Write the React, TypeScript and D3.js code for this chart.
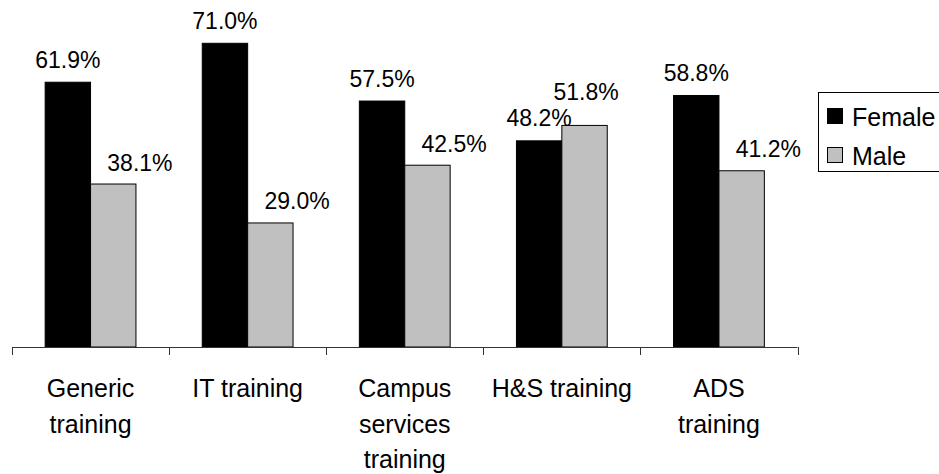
import React from "react";
import * as d3 from "d3";

const categories = ["Generic\ntraining", "IT training", "Campus\nservices\ntraining", "H&S training", "ADS\ntraining"];
const female = [61.9, 71.0, 57.5, 48.2, 58.8];
const male = [38.1, 29.0, 42.5, 51.8, 41.2];
const seriesNames = ["Female", "Male"];
const seriesColors = ["#000000", "#C0C0C0"];

const W = 939;
const H = 474;
const baseY = 347;
const FONT = "'Liberation Sans', Arial, Helvetica, sans-serif";

export default function App() {
  const x0 = d3.scaleBand<string>().domain(categories).range([12, 797.5]).padding(0);
  const bw = x0.bandwidth();
  const barW = bw * 0.289;
  const groupW = barW * 2;
  const y = d3.scaleLinear().domain([0, 80]).range([baseY, 4.8]);
  const fmt = (v: number) => d3.format(".1f")(v) + "%";
  const labelGap = 14.5;
  const labelH = 26;

  const ticks = [...categories.map((c) => x0(c) as number), 797.5];

  return (
    <svg width={W} height={H} style={{ position: "absolute", left: 0, top: 0 }} fontFamily={FONT}>
      <rect x={0} y={0} width={W} height={H} fill="#fff" />
      {categories.map((c, i) => {
        const gx = (x0(c) as number) + (bw - groupW) / 2;
        const fTop = y(female[i]);
        const mTop = y(male[i]);
        const fLabelY = fTop - labelGap;
        let mLabelY = mTop - 13.5;
        let mLabelX = gx + barW * 2 + 4;
        if (Math.abs(mLabelY - fLabelY) < labelH) {
          mLabelY = fLabelY - labelH;
          mLabelX = gx + barW * 1.5 + 1.5;
        }
        return (
          <g key={c}>
            <rect x={gx} y={fTop} width={barW} height={baseY - fTop} fill={seriesColors[0]} stroke="#000" strokeWidth={1} />
            <rect x={gx + barW} y={mTop} width={barW} height={baseY - mTop} fill={seriesColors[1]} stroke="#000" strokeWidth={1} />
            <text x={gx + barW / 2} y={fLabelY} textAnchor="middle" fontSize={23} fill="#000">{fmt(female[i])}</text>
            <text x={mLabelX} y={mLabelY} textAnchor="middle" fontSize={23} fill="#000">{fmt(male[i])}</text>
            <text textAnchor="middle" fontSize={25} fill="#000">
              {c.split("\n").map((line, j) => (
                <tspan key={j} x={(x0(c) as number) + bw / 2} y={397 + j * 35.5}>{line}</tspan>
              ))}
            </text>
          </g>
        );
      })}
      <line x1={12} x2={797.5} y1={baseY + 0.5} y2={baseY + 0.5} stroke="#333" strokeWidth={1} />
      {ticks.map((t, i) => (
        <line key={i} x1={Math.round(t) + 0.5} x2={Math.round(t) + 0.5} y1={baseY} y2={baseY + 8} stroke="#333" strokeWidth={1} />
      ))}
      <g>
        <rect x={818.5} y={92.5} width={140} height={79} fill="#fff" stroke="#000" strokeWidth={1} />
        {seriesNames.map((s, i) => (
          <g key={s}>
            <rect x={827.5} y={108.5 + i * 39} width={15} height={15} fill={seriesColors[i]} stroke="#000" strokeWidth={1} />
            <text x={852} y={126 + i * 39} fontSize={25} fill="#000">{s}</text>
          </g>
        ))}
      </g>
    </svg>
  );
}
